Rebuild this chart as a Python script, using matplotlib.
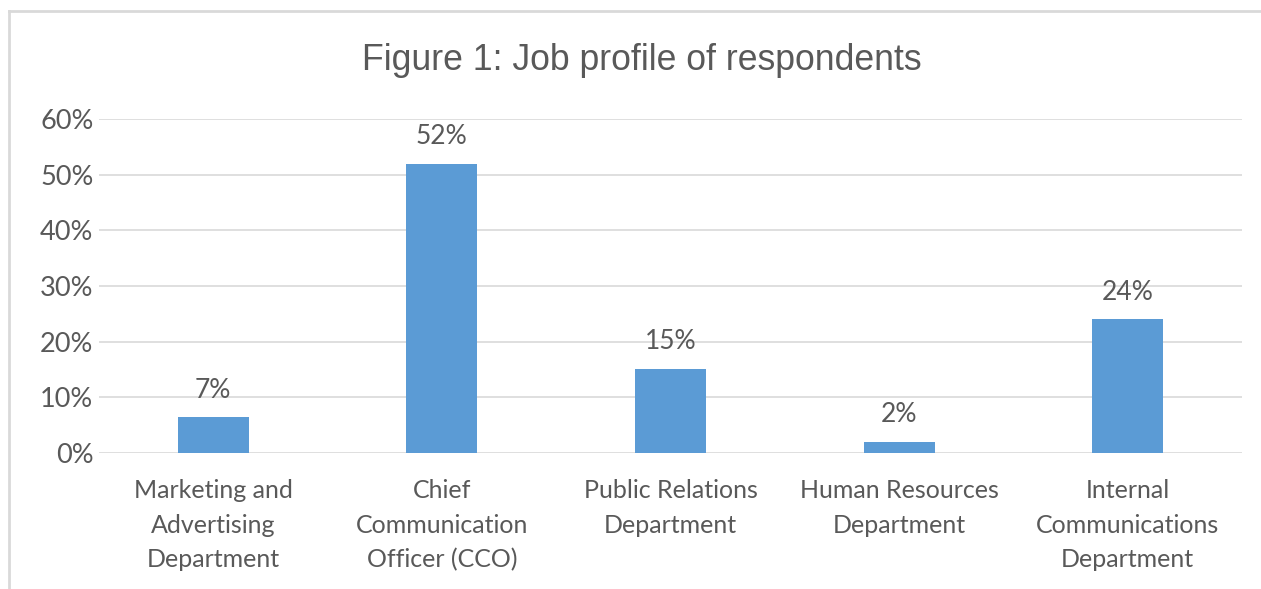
import matplotlib.pyplot as plt
from matplotlib.lines import Line2D

# data
categories = ["Marketing and\nAdvertising\nDepartment",
              "Chief\nCommunication\nOfficer (CCO)",
              "Public Relations\nDepartment",
              "Human Resources\nDepartment",
              "Internal\nCommunications\nDepartment"]
shares = [0.064, 0.52, 0.151, 0.02, 0.24]
share_labels = ["7%", "52%", "15%", "2%", "24%"]
yticks = [0, 0.1, 0.2, 0.3, 0.4, 0.5, 0.6]

bar_col = "#5B9BD5"
txt_col = "#595959"
grid_col = "#D9D9D9"
lab_font = "Lato"

fig = plt.figure(figsize=(12.61, 5.89), dpi=100)
fig.patch.set_facecolor("white")

# chart border: only the left and top edges are in the crop
bx, by = 9/1261, 1 - 11/589
fig.lines.append(Line2D([bx, 1.0], [by, by], transform=fig.transFigure,
                        color=grid_col, linewidth=2))
fig.lines.append(Line2D([bx, bx], [0.0, by], transform=fig.transFigure,
                        color=grid_col, linewidth=2))

ax = fig.add_axes([99/1261, 1 - 453/589, 1143/1261, 334/589])
x = list(range(len(categories)))
ax.bar(x, shares, width=0.31, color=bar_col, zorder=3)
ax.set_xlim(-0.5, len(categories) - 0.5)
ax.set_ylim(0, 0.6)
ax.set_yticks(yticks)
ax.set_yticklabels([f"{int(round(t*100))}%" for t in yticks])
ax.set_xticks(x)
ax.set_xticklabels(categories, linespacing=1.6)
for s in ax.spines.values():
    s.set_visible(False)
ax.grid(axis="y", color=grid_col, linewidth=1.2, zorder=0)
ax.tick_params(axis="both", length=0, colors=txt_col)
ax.tick_params(axis="x", pad=19, labelsize=18)
ax.tick_params(axis="y", pad=4, labelsize=19.5)
for t in ax.get_xticklabels() + ax.get_yticklabels():
    t.set_fontfamily(lab_font)

for xi, v, lab in zip(x, shares, share_labels):
    ax.annotate(lab, (xi, v), xytext=(0, 14), textcoords="offset points",
                ha="center", va="baseline", fontsize=19, color=txt_col,
                fontfamily=lab_font)

fig.text(0.5 * (363 + 920) / 1261, 1 - 61/589, "Figure 1: Job profile of respondents",
         ha="center", va="center", fontsize=25.7, color=txt_col,
         fontfamily="Liberation Sans")

fig.savefig("out.png", dpi=100)
